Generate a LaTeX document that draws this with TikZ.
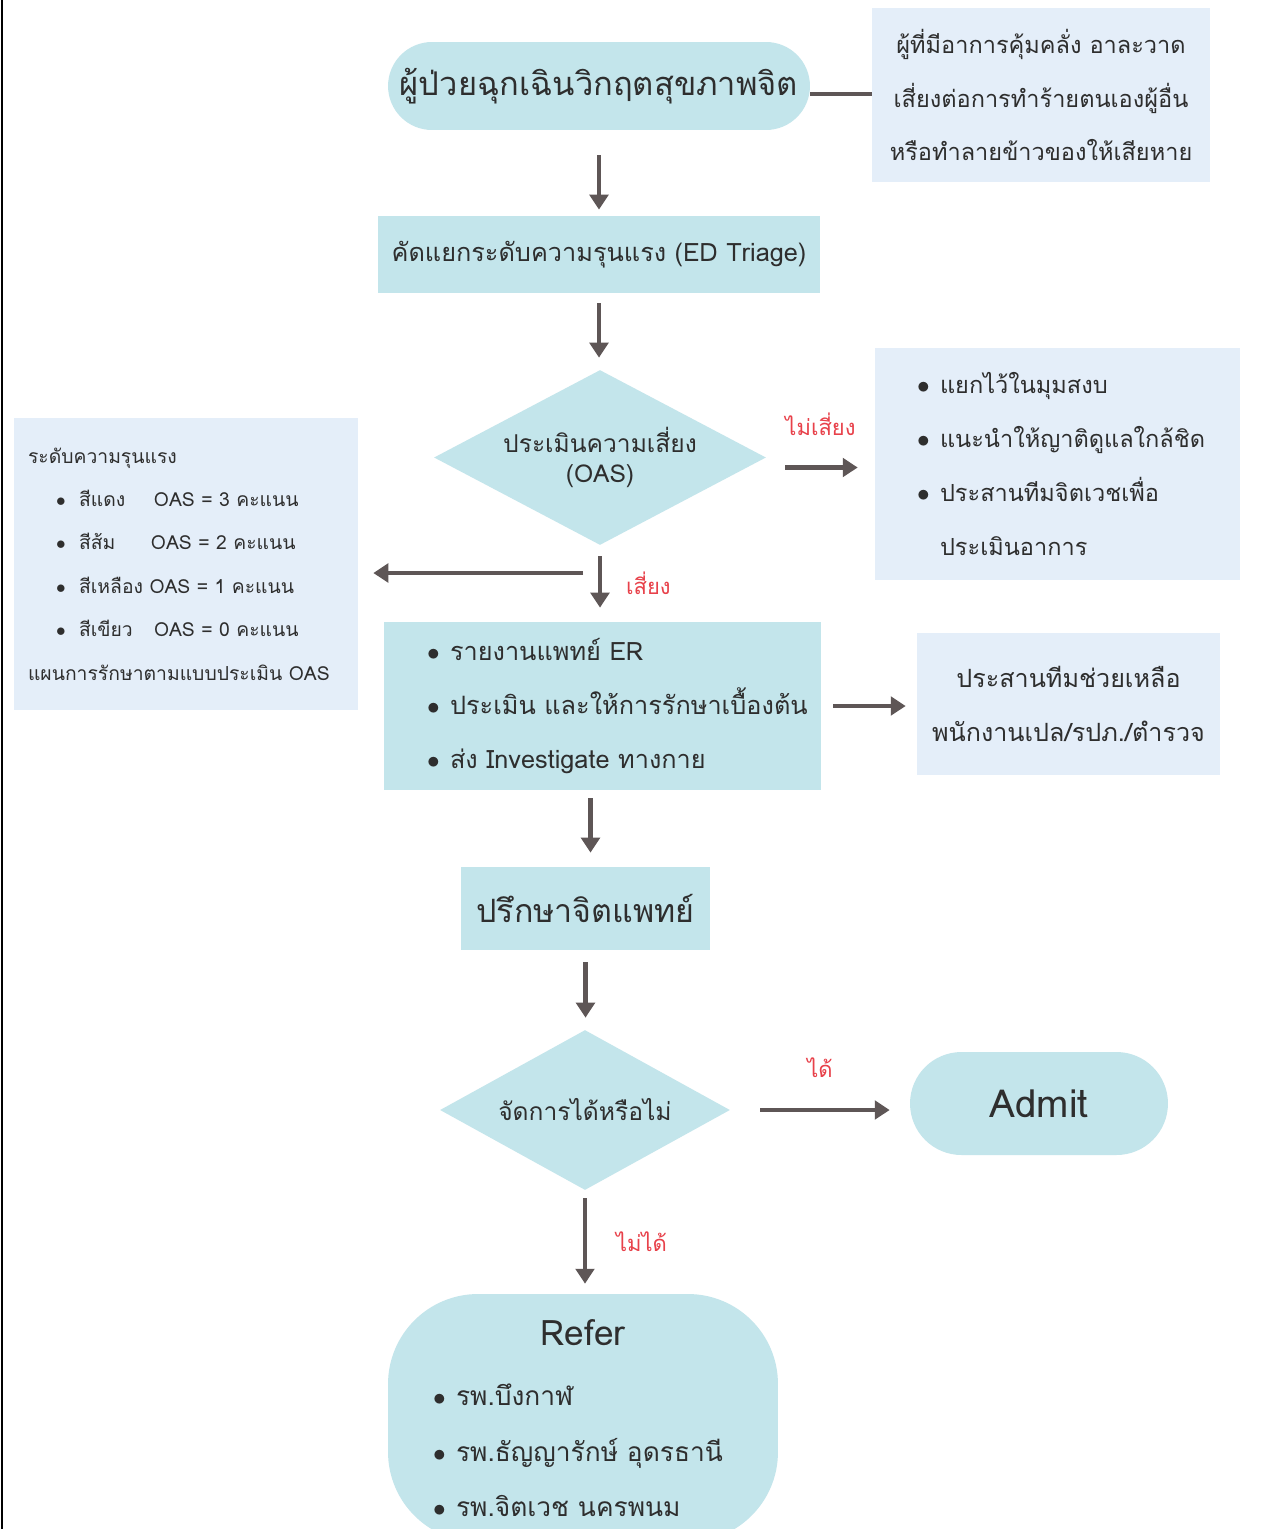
\documentclass[tikz,border=0pt]{standalone}
\usepackage{fontspec}
\setmainfont[Script=Thai]{Loma}
\usetikzlibrary{arrows.meta,shapes.geometric,shapes.misc,positioning}

\definecolor{tealfill}{HTML}{C3E5EB}
\definecolor{notefill}{HTML}{E4EEF9}
\definecolor{arrowgray}{HTML}{5E5656}
\definecolor{labelred}{HTML}{E8414A}
\definecolor{inkgray}{HTML}{2E2E2E}

\newcommand{\drawpill}{\node[rounded rectangle,fill=tealfill,inner sep=0,text=inkgray]}
\newcommand{\drawbox}{\node[rectangle,fill=tealfill,inner sep=0,text=inkgray]}
\newcommand{\drawnote}{\node[rectangle,fill=notefill,inner sep=0,text=inkgray]}
\newcommand{\drawdiamond}{\node[diamond,fill=tealfill,inner sep=0,text=inkgray]}
\newcommand{\bul}{\makebox[0.46cm][l]{$\bullet$}}
\newcommand{\fs}[2]{\fontsize{#1}{#2}\selectfont}

\begin{document}
\begin{tikzpicture}[x=0.02cm,y=-0.02cm,
  arr/.style={draw=arrowgray,line width=2.4pt,-{Triangle[length=8.5pt,width=10.5pt]}},
  yes/.style={text=labelred,inner sep=0,font=\fs{12.5}{15}}]
\useasboundingbox (0,0) rectangle (1264,1529);
\clip (0,0) rectangle (1264,1529);
\fill[white] (0,0) rectangle (1264,1529);
\draw[black,line width=1.7pt] (2,0) -- (2,1529);

%main column
\drawpill (patient) at (599,86) [minimum width=8.44cm,minimum height=1.76cm,font=\fs{18.6}{22}] {ผู้ป่วยฉุกเฉินวิกฤตสุขภาพจิต};
\drawnote (note) at (1041,95) [minimum width=6.76cm,minimum height=3.48cm,align=center,font=\fs{13.4}{30.6}]
  {ผู้ที่มีอาการคุ้มคลั่ง อาละวาด\\เสี่ยงต่อการทำร้ายตนเองผู้อื่น\\หรือทำลายข้าวของให้เสียหาย};
\drawbox (triage) at (599,254.5) [minimum width=8.84cm,minimum height=1.54cm,font=\fs{14.4}{18}] {คัดแยกระดับความรุนแรง (ED Triage)};
\drawdiamond (risk) at (600,457.5) [aspect=1.9,minimum width=6.64cm,minimum height=3.5cm,align=center,font=\fs{14}{17}] {ประเมินความเสี่ยง\\(OAS)};

\drawnote (calm) at (1057.5,464) [minimum width=7.3cm,minimum height=4.64cm,align=left,font=\fs{13.4}{30.6}]
  {\makebox[5.62cm][l]{\bul แยกไว้ในมุมสงบ}\\
   \makebox[5.62cm][l]{\bul แนะนำให้ญาติดูแลใกล้ชิด}\\
   \makebox[5.62cm][l]{\bul ประสานทีมจิตเวชเพื่อ}\\
   \makebox[5.62cm][l]{\hspace{0.46cm}ประเมินอาการ}};

\drawnote (level) at (186,564) [minimum width=6.88cm,minimum height=5.84cm,align=left,font=\fs{11}{24.7}]
  {\makebox[6.32cm][l]{ระดับความรุนแรง}\\
   \makebox[6.32cm][l]{\hspace{0.56cm}\bul\makebox[1.5cm][l]{สีแดง}OAS = 3 คะแนน}\\
   \makebox[6.32cm][l]{\hspace{0.56cm}\bul\makebox[1.44cm][l]{สีส้ม}OAS = 2 คะแนน}\\
   \makebox[6.32cm][l]{\hspace{0.56cm}\bul สีเหลือง OAS = 1 คะแนน}\\
   \makebox[6.32cm][l]{\hspace{0.56cm}\bul\makebox[1.5cm][l]{สีเขียว}OAS = 0 คะแนน}\\
   \makebox[6.32cm][l]{แผนการรักษาตามแบบประเมิน OAS}};

\drawbox (er) at (602.5,706) [minimum width=8.74cm,minimum height=3.36cm,align=left,font=\fs{14.4}{30.9}]
  {\makebox[7.02cm][l]{\bul รายงานแพทย์ ER}\\
   \makebox[7.02cm][l]{\bul ประเมิน และให้การรักษาเบื้องต้น}\\
   \makebox[7.02cm][l]{\bul ส่ง Investigate ทางกาย}};
\drawnote (help) at (1068.5,704) [minimum width=6.06cm,minimum height=2.84cm,align=center,font=\fs{14.3}{30.6}]
  {ประสานทีมช่วยเหลือ\\พนักงานเปล/รปภ./ตำรวจ};

\drawbox (consult) at (585.5,908.5) [minimum width=4.98cm,minimum height=1.66cm,font=\fs{18.3}{22}] {ปรึกษาจิตแพทย์};
\drawdiamond (manage) at (585,1110) [aspect=1.81,minimum width=5.8cm,minimum height=3.2cm,font=\fs{14}{17}] {จัดการได้หรือไม่};
\drawpill (admit) at (1039,1103.5) [minimum width=5.16cm,minimum height=2.06cm,font=\fs{22}{25}] {Admit};
\node[rectangle,rounded corners=1.8cm,fill=tealfill,inner sep=0,text=inkgray] (refer) at (583,1418)
  [minimum width=7.8cm,minimum height=4.96cm,align=center,font=\fs{15}{31.5}]
  {{\fs{20}{23}Refer}\\[3pt]
   \makebox[6cm][l]{\bul รพ.บึงกาฬ}\\
   \makebox[6cm][l]{\bul รพ.ธัญญารักษ์ อุดรธานี}\\
   \makebox[6cm][l]{\bul รพ.จิตเวช นครพนม}};

\coordinate (split) at (583,573);

%connectors
\draw[draw=arrowgray,line width=2.4pt] ([yshift=-0.16cm]patient.east) -- ([yshift=-0.16cm]patient.east -| note.west);
\draw[arr,shorten <=0.5cm,shorten >=0.12cm] (patient.south) -- (triage.north);
\draw[arr,shorten <=0.2cm,shorten >=0.24cm] (triage.south) -- (triage.south |- risk.north);
\draw[arr,shorten <=0.38cm,shorten >=0.34cm] ([yshift=-0.2cm]risk.east) -- ([yshift=-0.2cm]risk.east -| calm.west)
  node[yes,midway,above=0.6cm] {ไม่เสี่ยง};
\draw[arr,shorten <=0.22cm,shorten >=0.28cm] (risk.south) -- (risk.south |- er.north)
  node[yes,midway,right=0.48cm] {เสี่ยง};
\draw[arr,shorten >=0.3cm] (split) -- (split -| level.east);
\draw[arr,shorten <=0.24cm,shorten >=0.22cm] (er.east) -- (er.east -| help.west);
\draw[arr,shorten <=0.16cm,shorten >=0.28cm] ([xshift=0.1cm]consult.north |- er.south) -- ([xshift=0.1cm]consult.north);
\draw[arr,shorten <=0.24cm,shorten >=0.24cm] (consult.south) -- (consult.south |- manage.north);
\draw[arr,shorten <=0.6cm,shorten >=0.4cm] (manage.east) -- (manage.east -| admit.west)
  node[yes,midway,above=0.6cm] {ได้};
\draw[arr,shorten <=0.16cm,shorten >=0.2cm] (manage.south) -- (manage.south |- refer.north)
  node[yes,midway,right=0.58cm] {ไม่ได้};
\end{tikzpicture}
\end{document}
